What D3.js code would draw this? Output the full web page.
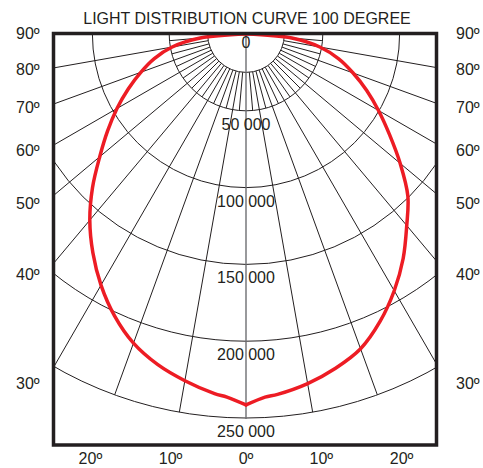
<!DOCTYPE html>
<html>
<head>
<meta charset="utf-8">
<script src="https://cdn.jsdelivr.net/npm/d3@7"></script>
<style>
  body { margin: 0; background: #fff; }
  text { font-family: "Liberation Sans", Arial, sans-serif; fill: #231f20; font-size: 16px; }
</style>
</head>
<body>
<svg width="483" height="468"></svg>
<script>
// grid
var ringValues = [25000, 50000, 100000, 150000, 200000, 250000];
var ringLabels = [0, 50000, 100000, 150000, 200000, 250000];
var majorAngles = [10, 20, 30, 40, 50, 60, 70, 80];
var minorAngles = [5, 15, 25, 35, 45, 55, 65, 75, 85];
var sideLabels = [90, 80, 70, 60, 50, 40, 30];
var bottomLabels = [-20, -10, 0, 10, 20];

// intensity (cd), left and right halves
var curveAngles = [0, 3, 5, 10, 15, 20, 25, 30, 35, 40, 45, 50, 55, 60, 65, 70, 75, 80, 85, 90];
var leftValues  = [241500, 236700, 235000, 229200, 222700, 214200, 202500, 188800, 173800, 158200, 141300, 124300, 110000, 97000, 84600, 72900, 61800, 48800, 29900, 0];
var rightValues = [241500, 236700, 235500, 231100, 225300, 218100, 206500, 193000, 178400, 162800, 149000, 131000, 114000, 99600, 86600, 74200, 62500, 48800, 29900, 0];

var svg = d3.select("svg");
var cx = 246, cy = 34;
var frame = {x0: 53.5, y0: 33.5, x1: 436.5, y1: 445};

var r = d3.scaleLinear().domain([0, 250000]).range([0, 384]);
var rad = function(d) { return d * Math.PI / 180; };

svg.append("defs").append("clipPath").attr("id", "clip")
  .append("rect")
  .attr("x", frame.x0).attr("y", frame.y0)
  .attr("width", frame.x1 - frame.x0).attr("height", frame.y1 - frame.y0);

var g = svg.append("g").attr("clip-path", "url(#clip)");
var c = g.append("g").attr("transform", "translate(" + cx + "," + cy + ")");

// rings (lower half circles)
c.selectAll(".ring")
  .data(ringValues)
  .enter().append("path")
  .attr("class", "ring")
  .attr("fill", "none")
  .attr("stroke", "#231f20")
  .attr("stroke-width", 1)
  .attr("d", function(v) {
    var p = d3.path();
    p.moveTo(r(v), 0);
    p.arc(0, 0, r(v), 0, Math.PI);
    return p.toString();
  });

// rays
var ray = d3.lineRadial()
  .angle(function(d) { return d.a; })
  .radius(function(d) { return d.r; });

function rayData(list, r0, r1) {
  var out = [];
  list.forEach(function(t) {
    [-t, t].forEach(function(s) {
      var a = Math.PI - rad(s);
      out.push([{a: a, r: r0}, {a: a, r: r1}]);
    });
  });
  return out;
}

c.selectAll(".major")
  .data(rayData(majorAngles, r(25000), r(250000)))
  .enter().append("path")
  .attr("class", "major")
  .attr("fill", "none")
  .attr("stroke", "#231f20")
  .attr("stroke-width", 1)
  .attr("d", ray);

c.selectAll(".minor")
  .data(rayData(minorAngles, r(25000), r(50000)))
  .enter().append("path")
  .attr("class", "minor")
  .attr("fill", "none")
  .attr("stroke", "#231f20")
  .attr("stroke-width", 1)
  .attr("d", ray);

// 0 degree axis
c.append("line")
  .attr("x1", 0).attr("y1", 0)
  .attr("x2", 0).attr("y2", r(250000) + 1)
  .attr("stroke", "#6d6e71")
  .attr("stroke-width", 1.4);

// intensity labels
var fmt = function(v) { return d3.format(",")(v).replace(/,/g, " "); };
svg.selectAll(".rlabel")
  .data(ringLabels)
  .enter().append("text")
  .attr("class", "rlabel")
  .attr("text-anchor", "middle")
  .attr("x", cx)
  .attr("y", function(v) { return cy + r(v) + (v === 0 ? 14 : 19); })
  .text(fmt);

// light curve
var curve = d3.lineRadial()
  .angle(function(d) { return d.a; })
  .radius(function(d) { return r(d.v); })
  .curve(d3.curveCatmullRom.alpha(0.5));

function half(values, sign) {
  return curveAngles.map(function(t, i) {
    return {a: Math.PI - sign * rad(t), v: values[i]};
  });
}

c.selectAll(".lcurve")
  .data([half(leftValues, -1), half(rightValues, 1)])
  .enter().append("path")
  .attr("class", "lcurve")
  .attr("fill", "none")
  .attr("stroke", "#ed1c24")
  .attr("stroke-width", 3.5)
  .attr("stroke-linejoin", "round")
  .attr("stroke-linecap", "round")
  .attr("d", curve);

// frame
svg.append("rect")
  .attr("x", frame.x0).attr("y", frame.y0)
  .attr("width", frame.x1 - frame.x0).attr("height", frame.y1 - frame.y0)
  .attr("fill", "none")
  .attr("stroke", "#231f20")
  .attr("stroke-width", 3.5);

// angle labels
var sideY = function(t) {
  var d = cx - frame.x0;
  return cy + 1.05 * d * Math.cos(rad(t)) / Math.sin(rad(t)) + 5;
};
svg.selectAll(".lleft")
  .data(sideLabels)
  .enter().append("text")
  .attr("x", 16)
  .attr("y", sideY)
  .text(function(t) { return t + "º"; });

svg.selectAll(".lright")
  .data(sideLabels)
  .enter().append("text")
  .attr("x", 456)
  .attr("y", sideY)
  .text(function(t) { return t + "º"; });

svg.selectAll(".lbottom")
  .data(bottomLabels)
  .enter().append("text")
  .attr("text-anchor", "middle")
  .attr("x", function(t) { return cx + 1.04 * (frame.y1 - cy) * Math.tan(rad(t)); })
  .attr("y", 464)
  .text(function(t) { return Math.abs(t) + "º"; });

// title
svg.append("text")
  .attr("x", 247)
  .attr("y", 24)
  .attr("text-anchor", "middle")
  .text("LIGHT DISTRIBUTION CURVE 100 DEGREE");
</script>
</body>
</html>
